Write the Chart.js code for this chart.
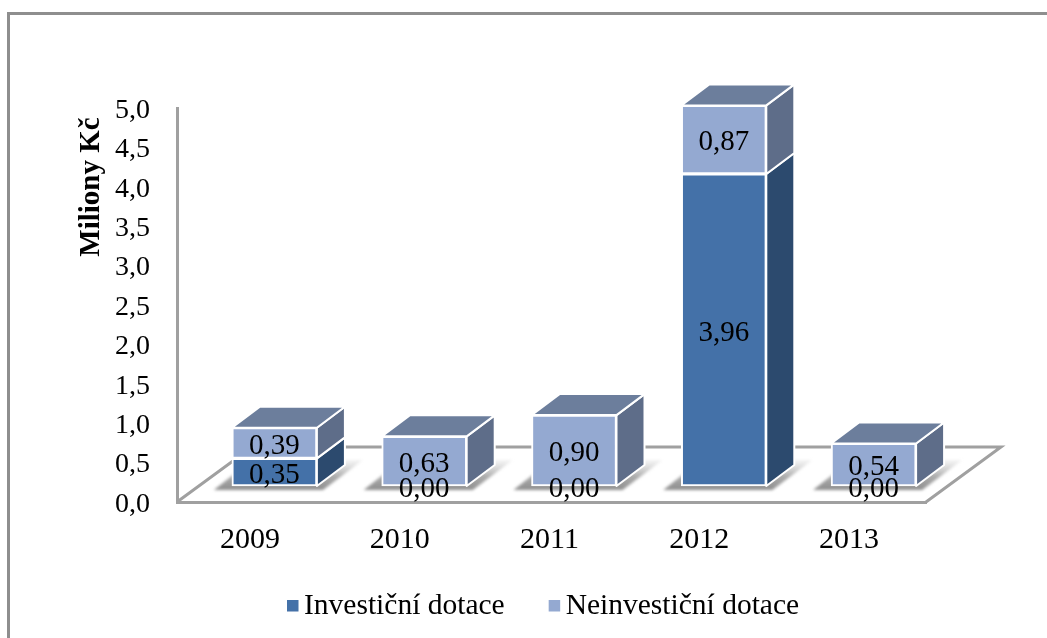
<!DOCTYPE html>
<html lang="cs">
<head>
<meta charset="utf-8">
<title>Dotace</title>
<script src="https://cdn.jsdelivr.net/npm/chart.js@4"></script>
<style>
html,body{margin:0;padding:0;background:#fff;overflow:hidden}
#wrap{position:relative;width:1047px;height:638px}
canvas{display:block;filter:blur(0.55px)}
</style>
</head>
<body>
<div id="wrap"><canvas id="c" width="1047" height="638"></canvas></div>
<script>
const categories = ['2009', '2010', '2011', '2012', '2013'];
const investicni = [0.35, 0, 0, 3.96, 0];
const neinvesticni = [0.39, 0.63, 0.90, 0.87, 0.54];
const seriesNames = ['Investiční dotace', 'Neinvestiční dotace'];
const yTitle = 'Miliony Kč';

const FONT = '"Liberation Serif", "Times New Roman", serif';
const FRONT = ['#4471a8', '#94a9d1'];
const SIDE = ['#2c4a6e', '#5e6d89'];
const TOP_FACE = '#6c7e9c';
const AXIS = '#a0a0a0';
const FRAME = '#8e8e8e';
const SHIFT_X = 22.5, SHIFT_Y = -16, DX = 28, DY = -21;
const FLOOR_DX = 75, FLOOR_DY = -55;
const fmt = (v, d) => v.toFixed(d).replace('.', ',');

function poly(ctx, pts) {
  ctx.beginPath();
  pts.forEach((p, i) => i ? ctx.lineTo(p[0], p[1]) : ctx.moveTo(p[0], p[1]));
  ctx.closePath();
}

const scene = {
  id: 'scene',
  afterLayout(chart) {
    const l = chart.legend;
    l.left = 243;
    l.right = 1047;
    l.top = 547;
  },
  beforeDraw(chart) {
    const ctx = chart.ctx;
    ctx.save();
    ctx.strokeStyle = FRAME;
    ctx.lineWidth = 3;
    ctx.beginPath();
    ctx.moveTo(8.5, 638);
    ctx.lineTo(8.5, 13.5);
    ctx.lineTo(1047, 13.5);
    ctx.stroke();
    ctx.restore();
  },
  beforeDatasetsDraw(chart) {
    const ctx = chart.ctx;
    const x = chart.scales.x, y = chart.scales.y;
    const y0 = y.getPixelForValue(0);
    ctx.save();
    // floor outline
    ctx.strokeStyle = AXIS;
    ctx.lineWidth = 3;
    ctx.beginPath();
    ctx.moveTo(x.left, y0);
    ctx.lineTo(x.left + FLOOR_DX, y0 + FLOOR_DY);
    ctx.lineTo(x.right + FLOOR_DX, y0 + FLOOR_DY);
    ctx.lineTo(x.right, y0);
    ctx.stroke();
    ctx.restore();

    ctx.save();
    ctx.translate(SHIFT_X, SHIFT_Y);
    const m0 = chart.getDatasetMeta(0).data;
    const m1 = chart.getDatasetMeta(1).data;
    // shadows
    ctx.save();
    ctx.filter = 'blur(1.8px)';
    categories.forEach((c, i) => {
      const b = m1[i];
      const x1 = b.x - b.width / 2, x2 = b.x + b.width / 2, yb = y0;
      const g = ctx.createLinearGradient(0, yb + 4, 0, yb - 26);
      g.addColorStop(0, 'rgba(135,135,135,0.95)');
      g.addColorStop(0.45, 'rgba(150,150,150,0.8)');
      g.addColorStop(1, 'rgba(200,200,200,0.2)');
      ctx.fillStyle = g;
      poly(ctx, [[x1 - 18, yb + 4], [x2 + 6, yb + 4], [x2 + 46, yb - 26], [x1 + 20, yb - 26]]);
      ctx.fill();
    });
    ctx.restore();
    // side and top faces
    ctx.strokeStyle = '#fff';
    ctx.lineWidth = 2;
    ctx.lineJoin = 'round';
    categories.forEach((c, i) => {
      [m0[i], m1[i]].forEach((b, s) => {
        if (b.base - b.y < 0.5) return;
        const xr = b.x + b.width / 2;
        ctx.fillStyle = SIDE[s];
        poly(ctx, [[xr, b.base], [xr + DX, b.base + DY], [xr + DX, b.y + DY], [xr, b.y]]);
        ctx.fill(); ctx.stroke();
      });
      const t = m1[i];
      const xl = t.x - t.width / 2, xr = t.x + t.width / 2;
      ctx.fillStyle = TOP_FACE;
      poly(ctx, [[xl, t.y], [xl + DX, t.y + DY], [xr + DX, t.y + DY], [xr, t.y]]);
      ctx.fill(); ctx.stroke();
    });
  },
  afterDatasetsDraw(chart) {
    const ctx = chart.ctx;
    // value labels (still in the shifted plane)
    ctx.fillStyle = '#000';
    ctx.font = '29px ' + FONT;
    ctx.textAlign = 'center';
    ctx.textBaseline = 'middle';
    chart.data.datasets.forEach((ds, d) => {
      chart.getDatasetMeta(d).data.forEach((b, i) => {
        ctx.fillText(fmt(ds.data[i], 2), b.x, (b.y + b.base) / 2 + 3);
      });
    });
    ctx.restore();
  },
  afterDraw(chart) {
    const ctx = chart.ctx;
    ctx.save();
    // legend swatches
    const hits = chart.legend.legendHitBoxes;
    FRONT.forEach((col, i) => {
      const sx = 287 + (hits[i].left - hits[0].left);
      ctx.fillStyle = col;
      ctx.fillRect(sx, 600, 11.5, 11.5);
    });
    // axis title
    ctx.translate(92, 187);
    ctx.rotate(-Math.PI / 2);
    ctx.fillStyle = '#000';
    ctx.font = 'bold 29px ' + FONT;
    ctx.textAlign = 'center';
    ctx.textBaseline = 'middle';
    ctx.fillText(yTitle, 0, 0);
    ctx.restore();
  }
};

const common = {
  stack: 's',
  borderColor: '#fff',
  borderWidth: 2,
  borderSkipped: false,
  barThickness: 85,
  clip: false
};

new Chart(document.getElementById('c'), {
  type: 'bar',
  data: {
    labels: categories,
    datasets: [
      Object.assign({ label: seriesNames[0], data: investicni, backgroundColor: FRONT[0] }, common),
      Object.assign({ label: seriesNames[1], data: neinvesticni, backgroundColor: FRONT[1] }, common)
    ]
  },
  plugins: [scene],
  options: {
    responsive: false,
    animation: false,
    events: [],
    layout: { padding: { left: 0, right: 121, top: 108, bottom: 0 } },
    scales: {
      x: {
        stacked: true,
        offset: true,
        grid: { display: false, drawTicks: false },
        border: { display: true, color: AXIS, width: 3 },
        ticks: { color: '#000', font: { family: FONT, size: 30 }, padding: 20, maxRotation: 0, labelOffset: -2 },
        afterFit(s) { s.height = 136 - (s.chart.legend ? s.chart.legend.height : 0); }
      },
      y: {
        stacked: true,
        min: 0,
        max: 5,
        grid: { display: false, drawTicks: false },
        border: { display: true, color: AXIS, width: 3 },
        ticks: {
          stepSize: 0.5,
          color: '#000',
          font: { family: FONT, size: 28 },
          padding: 27,
          labelOffset: 2.5,
          callback: v => fmt(v, 1)
        },
        afterFit(s) { s.width = 177; }
      }
    },
    plugins: {
      tooltip: { enabled: false },
      legend: {
        position: 'bottom',
        align: 'start',
        labels: {
          color: '#000',
          font: { family: FONT, size: 29.5 },
          boxWidth: 2,
          boxHeight: 2,
          padding: 44.25,
          generateLabels: chart => chart.data.datasets.map((d, i) => ({
            text: d.label,
            fillStyle: 'transparent',
            strokeStyle: 'transparent',
            lineWidth: 0,
            datasetIndex: i,
            hidden: false
          }))
        }
      }
    }
  }
});
</script>
</body>
</html>
